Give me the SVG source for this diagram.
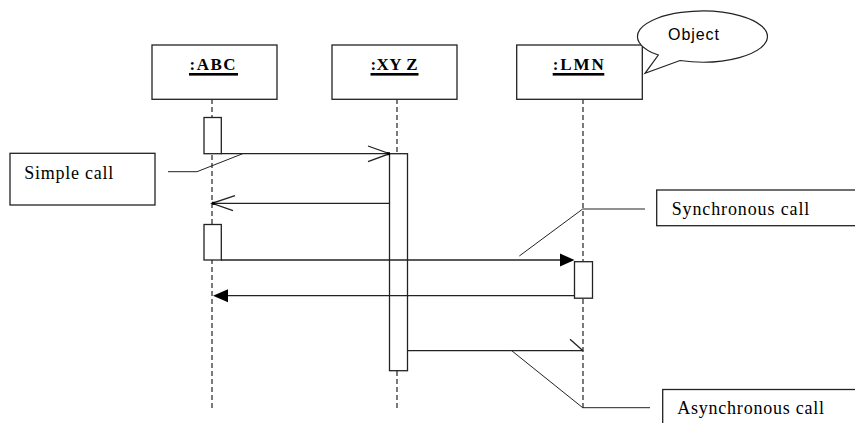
<svg xmlns="http://www.w3.org/2000/svg" width="855" height="423" viewBox="0 0 855 423">
<style>
.box{fill:#fff;stroke:#222;stroke-width:1.3}
.life{stroke:#333;stroke-width:1.3;stroke-dasharray:5 3;fill:none}
.act{fill:#fff;stroke:#222;stroke-width:1.3}
.msg{stroke:#222;stroke-width:1.3;fill:none}
.lead{stroke:#222;stroke-width:1;fill:none}
.head{font-family:"Liberation Serif","DejaVu Serif","Times New Roman",serif;font-weight:bold;font-size:17px;fill:#000}
.note{font-family:"Liberation Serif","DejaVu Serif","Times New Roman",serif;font-size:18px;fill:#000}
.ul{fill:#000}
</style>
<rect width="855" height="423" fill="#fff"/>
<g id="lifelines">
<line class="life" x1="212" y1="99" x2="212" y2="409"/>
<line class="life" x1="397" y1="99" x2="397" y2="409"/>
<line class="life" x1="583" y1="99" x2="583" y2="409"/>
</g>
<g id="abc">
<rect class="box" x="152" y="45" width="125" height="54.3"/>
<text class="head" x="189.5" y="69.5" textLength="46" lengthAdjust="spacing">:ABC</text>
<rect class="ul" x="189" y="73" width="49" height="2.6"/>
</g>
<g id="xyz">
<rect class="box" x="332" y="45" width="125" height="54.3"/>
<text class="head" x="370.5" y="69.5" textLength="47" lengthAdjust="spacing">:XY Z</text>
<rect class="ul" x="370.5" y="73" width="48" height="2.6"/>
</g>
<g id="lmn">
<rect class="box" x="516.7" y="45" width="125.6" height="54.3"/>
<text class="head" x="552.7" y="69.5" textLength="51" lengthAdjust="spacing">:LMN</text>
<rect class="ul" x="552.7" y="73" width="51.6" height="2.6"/>
</g>
<g id="object-callout">
<path d="M651.7 52.5 L658.3 55 L645 73.3 L680 60.5 A65 25.5 0 1 0 651.7 52.5 Z" fill="#fff" stroke="#222" stroke-width="1.2"/>
<text x="668" y="40" font-family="'Liberation Sans',sans-serif" font-size="16" textLength="51" lengthAdjust="spacing">Object</text>
</g>
<g id="activations">
<rect class="act" x="204" y="117.5" width="17.3" height="36.2"/>
<rect class="act" x="204" y="224.5" width="17.3" height="35.5"/>
<rect class="act" x="389.5" y="153.7" width="18" height="217"/>
<rect class="act" x="574.5" y="261.7" width="18" height="36.5"/>
</g>
<g id="connectors">
<line class="msg" x1="221" y1="153.7" x2="389.5" y2="153.7"/>
<polyline class="msg" points="368,146 389.5,153.7 368,161.7"/>
<rect x="387" y="152.2" width="3" height="3" fill="#000"/>
<line class="msg" x1="389.5" y1="203.3" x2="212" y2="203.3"/>
<polyline class="msg" points="235,195.7 212,203.3 233,210.7"/>
<rect x="212" y="201.8" width="3" height="3" fill="#000"/>
<line class="msg" x1="221" y1="260" x2="562" y2="260"/>
<polygon points="574.5,260 560,253.5 560,266.5" fill="#000"/>
<line class="msg" x1="574.5" y1="295.7" x2="226" y2="295.7"/>
<polygon points="213,295.7 228,289.2 228,302.2" fill="#000"/>
<line class="msg" x1="407.5" y1="350.7" x2="583" y2="350.7"/>
<line class="msg" x1="570" y1="339.3" x2="583" y2="350.7"/>
<polyline class="lead" points="168,171.7 197,171.7 242.7,153.7"/>
<polyline class="lead" points="519.3,256 582.7,209 645,209"/>
<polyline class="lead" points="511.7,350.7 582.7,407.7 650,407.7"/>
</g>
<g id="note-simple">
<rect class="box" x="10" y="153.3" width="145" height="51.7"/>
<text class="note" x="24.3" y="178.5" textLength="89" lengthAdjust="spacing">Simple call</text>
</g>
<g id="note-sync">
<rect class="box" x="656.7" y="190" width="215" height="35.7"/>
<text class="note" x="671.7" y="214.5" textLength="137.6" lengthAdjust="spacing">Synchronous call</text>
</g>
<g id="note-async">
<rect class="box" x="662.7" y="389.5" width="215" height="50"/>
<text class="note" x="677.3" y="413.5" textLength="146.7" lengthAdjust="spacing">Asynchronous call</text>
</g>
</svg>
